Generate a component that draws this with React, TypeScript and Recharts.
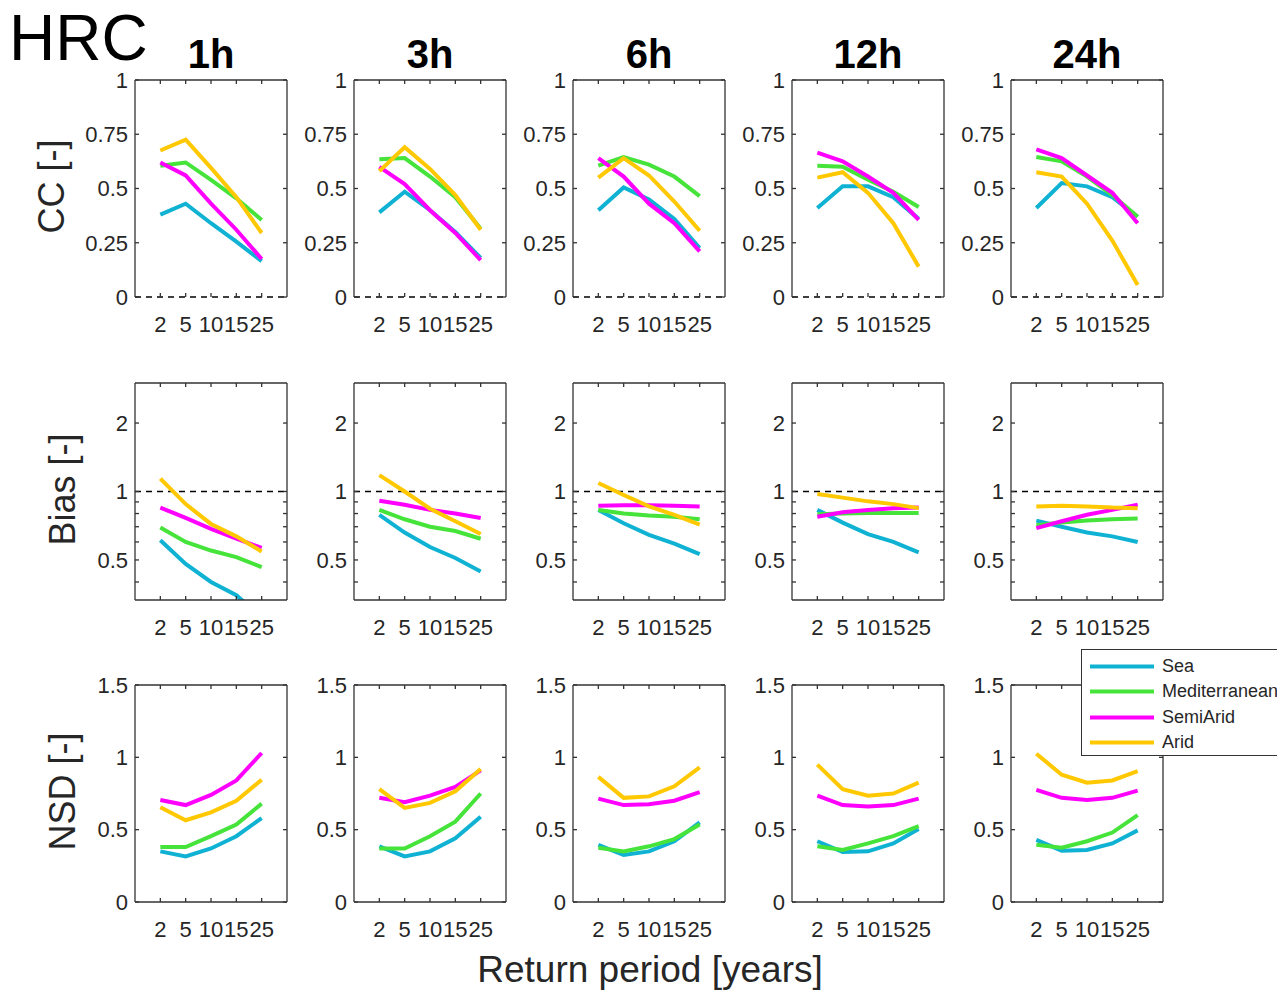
import React from 'react';
import { LineChart, Line, XAxis, YAxis, ReferenceLine } from 'recharts';

const periods = ['2', '5', '10', '15', '25'];
const durations = ['1h', '3h', '6h', '12h', '24h'];
const regions = ['Sea', 'Mediterranean', 'SemiArid', 'Arid'];
const colors = ['#10b2d3', '#46e33b', '#ff00ff', '#ffc800'];

// one inner array per duration (1h, 3h, 6h, 12h, 24h)
const ccSea = [
  [0.38, 0.43, 0.34, 0.255, 0.165],
  [0.39, 0.485, 0.4, 0.3, 0.18],
  [0.4, 0.505, 0.45, 0.36, 0.225],
  [0.41, 0.51, 0.51, 0.46, 0.36],
  [0.41, 0.525, 0.51, 0.46, 0.37],
];
const ccMed = [
  [0.605, 0.62, 0.54, 0.455, 0.355],
  [0.635, 0.64, 0.555, 0.46, 0.315],
  [0.605, 0.645, 0.61, 0.555, 0.465],
  [0.605, 0.6, 0.54, 0.485, 0.415],
  [0.645, 0.625, 0.555, 0.47, 0.37],
];
const ccSemi = [
  [0.62, 0.56, 0.43, 0.31, 0.175],
  [0.6, 0.52, 0.4, 0.295, 0.17],
  [0.64, 0.555, 0.43, 0.34, 0.21],
  [0.665, 0.625, 0.555, 0.48, 0.355],
  [0.68, 0.64, 0.56, 0.48, 0.34],
];
const ccArid = [
  [0.675, 0.725, 0.595, 0.46, 0.295],
  [0.58, 0.69, 0.59, 0.47, 0.31],
  [0.55, 0.64, 0.56, 0.44, 0.305],
  [0.55, 0.575, 0.48, 0.34, 0.14],
  [0.575, 0.555, 0.43, 0.26, 0.055],
];

const biasSea = [
  [0.61, 0.48, 0.4, 0.35, 0.28],
  [0.79, 0.66, 0.57, 0.51, 0.445],
  [0.83, 0.725, 0.645, 0.59, 0.53],
  [0.83, 0.73, 0.65, 0.6, 0.54],
  [0.745, 0.7, 0.66, 0.635, 0.6],
];
const biasMed = [
  [0.695, 0.6, 0.55, 0.515, 0.465],
  [0.83, 0.755, 0.7, 0.67, 0.62],
  [0.83, 0.8, 0.785, 0.775, 0.755],
  [0.795, 0.8, 0.805, 0.805, 0.805],
  [0.71, 0.73, 0.745, 0.755, 0.76],
];
const biasSemi = [
  [0.85, 0.765, 0.685, 0.62, 0.565],
  [0.91, 0.875, 0.83, 0.8, 0.765],
  [0.865, 0.87, 0.87, 0.865, 0.86],
  [0.775, 0.81, 0.83, 0.845, 0.85],
  [0.69, 0.74, 0.79, 0.83, 0.875],
];
const biasArid = [
  [1.14, 0.88, 0.72, 0.635, 0.545],
  [1.18, 1.0, 0.84, 0.74, 0.65],
  [1.09, 0.965, 0.86, 0.79, 0.715],
  [0.975, 0.94, 0.905, 0.88, 0.845],
  [0.86, 0.865, 0.86, 0.85, 0.845],
];

const nsdSea = [
  [0.35, 0.315, 0.37, 0.455, 0.58],
  [0.385, 0.315, 0.35, 0.44, 0.59],
  [0.395, 0.325, 0.35, 0.42, 0.55],
  [0.42, 0.345, 0.35, 0.405, 0.505],
  [0.43, 0.355, 0.36, 0.405, 0.495],
];
const nsdMed = [
  [0.38, 0.38, 0.455, 0.535, 0.68],
  [0.37, 0.37, 0.455, 0.555, 0.75],
  [0.375, 0.35, 0.385, 0.435, 0.535],
  [0.385, 0.36, 0.405, 0.455, 0.525],
  [0.395, 0.375, 0.42, 0.48, 0.6],
];
const nsdSemi = [
  [0.705, 0.67, 0.74, 0.84, 1.03],
  [0.72, 0.69, 0.735, 0.795, 0.91],
  [0.715, 0.67, 0.675, 0.7, 0.76],
  [0.735, 0.67, 0.66, 0.67, 0.715],
  [0.775, 0.72, 0.705, 0.72, 0.77],
];
const nsdArid = [
  [0.655, 0.565, 0.62, 0.7, 0.845],
  [0.78, 0.65, 0.685, 0.765, 0.92],
  [0.865, 0.72, 0.73, 0.8, 0.93],
  [0.95, 0.78, 0.735, 0.75, 0.825],
  [1.025, 0.88, 0.825, 0.84, 0.905],
];

const ccTicks = [0, 0.25, 0.5, 0.75, 1];
const biasTicks = [0.5, 1, 2];
const biasMinorTicks = [0.4, 0.6, 0.7, 0.8, 0.9];
const nsdTicks = [0, 0.5, 1, 1.5];

const metrics = [
  { label: 'CC [-]', labelX: 51, series: [ccSea, ccMed, ccSemi, ccArid], domain: [0, 1], ticks: ccTicks, minor: [] as number[], log: false, ref: 0 },
  { label: 'Bias [-]', labelX: 62, series: [biasSea, biasMed, biasSemi, biasArid], domain: [1 / 3, 3], ticks: biasTicks, minor: biasMinorTicks, log: true, ref: 1 },
  { label: 'NSD [-]', labelX: 62, series: [nsdSea, nsdMed, nsdSemi, nsdArid], domain: [0, 1.5], ticks: nsdTicks, minor: [] as number[], log: false, ref: null as number | null },
];

const keys = ['sea', 'med', 'semi', 'arid'];

const plotLefts = [135, 354, 573, 792, 1011];
const rowTops = [80, 383, 685];
const plotW = 152;
const plotH = 217;
const ML = 70;
const MT = 20;
const MR = 10;
const MB = 45;

const font = '"Liberation Sans", Arial, Helvetica, sans-serif';
const ink = '#262626';
const axisStyle = { stroke: '#333', strokeWidth: 1.3 };
const tickFont = { fontSize: 22, fill: ink, fontFamily: font };
const noTick = () => <g />;

function Panel({ row, col }: { row: number; col: number }) {
  const m = metrics[row];
  const data = periods.map((p, i) => {
    const d: Record<string, number | string> = { x: i + 1, period: p };
    keys.forEach((k, s) => {
      d[k] = m.series[s][col][i];
    });
    return d;
  });
  const scale = m.log ? 'log' : 'linear';
  const allTicks = [...m.ticks, ...m.minor].sort((a, b) => a - b);
  const yFormat = (v: number) => (m.ticks.includes(v) ? String(v) : '');

  return (
    <div style={{ position: 'absolute', left: plotLefts[col] - ML, top: rowTops[row] - MT - 1 }}>
      <LineChart
        width={ML + plotW + 1 + MR}
        height={MT + 1 + plotH + MB}
        data={data}
        margin={{ top: MT, right: MR, bottom: 0, left: 0 }}
      >
        <XAxis
          dataKey="x"
          type="number"
          domain={[0, 6]}
          ticks={[1, 2, 3, 4, 5]}
          interval={0}
          allowDataOverflow
          tickFormatter={(v: number) => periods[v - 1]}
          height={MB}
          tickSize={-4}
          tickMargin={23}
          axisLine={row === 0 ? false : axisStyle}
          tickLine={axisStyle}
          tick={tickFont}
        />
        <XAxis
          xAxisId="top"
          orientation="top"
          dataKey="x"
          type="number"
          domain={[0, 6]}
          ticks={[1, 2, 3, 4, 5]}
          interval={0}
          allowDataOverflow
          height={1}
          tickSize={-4}
          axisLine={axisStyle}
          tickLine={axisStyle}
          tick={noTick}
        />
        <YAxis
          type="number"
          scale={scale}
          domain={m.domain}
          ticks={allTicks}
          interval={0}
          allowDataOverflow
          width={ML}
          tickFormatter={yFormat}
          tickSize={-4}
          tickMargin={11}
          axisLine={axisStyle}
          tickLine={axisStyle}
          tick={tickFont}
        />
        <YAxis
          yAxisId="right"
          orientation="right"
          type="number"
          scale={scale}
          domain={m.domain}
          ticks={allTicks}
          interval={0}
          allowDataOverflow
          width={1}
          tickSize={-4}
          axisLine={axisStyle}
          tickLine={axisStyle}
          tick={noTick}
        />
        {m.ref !== null && (
          <ReferenceLine y={m.ref} stroke="#000" strokeWidth={1.3} strokeDasharray="6 5" />
        )}
        {keys.map((k, s) => (
          <Line
            key={k}
            dataKey={k}
            name={regions[s]}
            type="linear"
            stroke={colors[s]}
            strokeWidth={4}
            dot={false}
            activeDot={false}
            isAnimationActive={false}
          />
        ))}
      </LineChart>
    </div>
  );
}

function Legend() {
  return (
    <div
      style={{
        position: 'absolute',
        left: 1081,
        top: 649,
        width: 210,
        height: 107,
        border: '1.3px solid #333',
        background: '#fff',
        boxSizing: 'border-box',
        fontFamily: font,
        fontSize: 18,
        color: ink,
      }}
    >
      {regions.map((r, i) => (
        <div
          key={r}
          style={{ position: 'absolute', left: 0, top: 4 + i * 25.3, height: 25, display: 'flex', alignItems: 'center' }}
        >
          <svg width={80} height={25} style={{ display: 'block' }}>
            <line x1={8} x2={72} y1={12.5} y2={12.5} stroke={colors[i]} strokeWidth={4} />
          </svg>
          <span style={{ whiteSpace: 'nowrap' }}>{r}</span>
        </div>
      ))}
    </div>
  );
}

export default function App() {
  return (
    <div
      style={{
        position: 'absolute',
        left: 0,
        top: 0,
        width: 1277,
        height: 991,
        overflow: 'hidden',
        background: '#fff',
        fontFamily: font,
      }}
    >
      <svg width={1277} height={991} style={{ position: 'absolute', left: 0, top: 0 }}>
        <text x={9} y={60} fontSize={64} fill="#000" fontFamily={font}>
          HRC
        </text>
        {durations.map((d, c) => (
          <text
            key={d}
            x={plotLefts[c] + plotW / 2}
            y={68}
            fontSize={40}
            fontWeight="bold"
            textAnchor="middle"
            fill="#000"
            fontFamily={font}
          >
            {d}
          </text>
        ))}
        {metrics.map((m, r) => (
          <text
            key={m.label}
            transform={`translate(${m.labelX},${rowTops[r] + plotH / 2 - 2}) rotate(-90)`}
            fontSize={36}
            textAnchor="middle"
            dominantBaseline="central"
            fill={ink}
            fontFamily={font}
          >
            {m.label}
          </text>
        ))}
        <text x={650} y={982} fontSize={37} textAnchor="middle" fill={ink} fontFamily={font}>
          Return period [years]
        </text>
      </svg>
      {metrics.map((m, r) =>
        durations.map((d, c) => <Panel key={`${r}-${c}`} row={r} col={c} />)
      )}
      <Legend />
    </div>
  );
}
